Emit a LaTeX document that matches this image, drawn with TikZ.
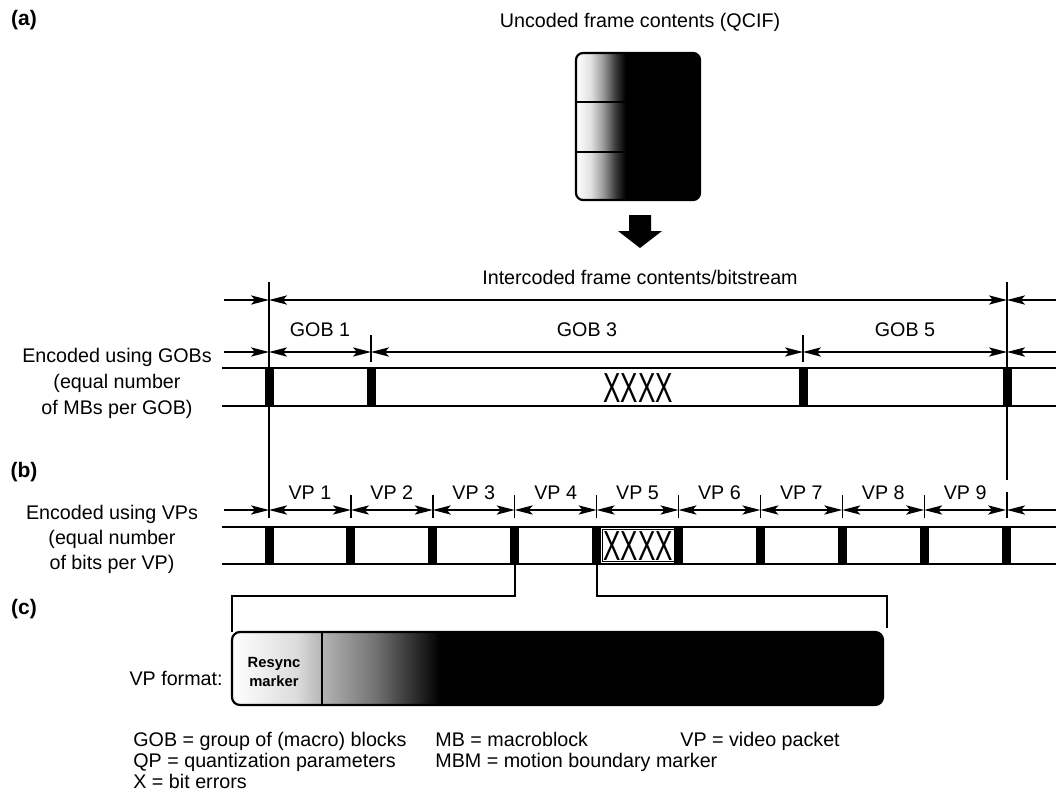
\documentclass[tikz,border=0pt]{standalone}
\usepackage{fontspec}
\usepackage{graphicx}
\setmainfont{Liberation Sans}
\usetikzlibrary{arrows.meta}
% TikZ maps a path's bounding box to the range 25bp..75bp of a shading
\pgfdeclarehorizontalshading{frameshade}{100bp}{color(0bp)=(white); color(25bp)=(white); color(31bp)=(white!88!black); color(36bp)=(black!40); color(41bp)=(black!78); color(45bp)=(black); color(100bp)=(black)}
\pgfdeclarehorizontalshading{vpshade}{100bp}{color(0bp)=(white); color(25bp)=(white); color(30bp)=(white!86!black); color(32bp)=(black!30); color(36bp)=(black!55); color(41bp)=(black); color(100bp)=(black)}
\begin{document}
\begin{tikzpicture}[x=0.5pt,y=-0.5pt,
  font=\fontsize{9.85}{12}\selectfont,
  >={Stealth[length=9pt,width=4.6pt,inset=2pt]},
  dimline/.style={line width=0.7pt},
  extline/.style={line width=0.7pt},
  barline/.style={line width=1.1pt},
  lbl/.style={inner sep=0pt},
  tag/.style={font=\fontsize{10.5}{12}\selectfont\bfseries, inner sep=0pt},
  xxxx/.style={inner sep=0pt, font=\fontsize{21}{21}\selectfont}]
\useasboundingbox (0,0) rectangle (1056,798);

% section tags
\node[tag] (taga) at (24,20) {(a)};
\node[tag] (tagb) at (24,472) {(b)};
\node[tag] (tagc) at (24,609) {(c)};

% uncoded frame
\node[lbl] (uncoded) at (640,22) {Uncoded frame contents (QCIF)};
\shadedraw[shading=frameshade, rounded corners=3.5pt, line width=1.1pt] (576,53) rectangle (700,200);
\draw[line width=1.2pt] (576,102) -- (700,102);
\draw[line width=1.2pt] (576,152) -- (700,152);
\fill (629,215) -- (651,215) -- (651,231) -- (662,231) -- (640,248) -- (618,231) -- (629,231) -- cycle;

% intercoded dimension
\node[lbl] (inter) at (640,277) {Intercoded frame contents/bitstream};
\coordinate (L) at (224,300);
\coordinate (A) at (269,300);
\coordinate (D) at (1007,300);
\coordinate (R) at (1056,300);
\draw[dimline,->] (L) -- (A);
\draw[dimline,<->] (A) -- (D);
\draw[dimline,<-] (D) -- (R);
\draw[extline] (269,282) -- (269,518);
\draw[extline] (1007,282) -- (1007,480);

% GOB dimension
\draw[extline] (371,335) -- (371,362);
\draw[extline] (803,335) -- (803,362);
\draw[dimline,->] (224,352) -- (269,352);
\draw[dimline,<->] (269,352) -- (371,352);
\draw[dimline,<->] (371,352) -- (803,352);
\draw[dimline,<->] (803,352) -- (1007,352);
\draw[dimline,<-] (1007,352) -- (1056,352);
\node[lbl] (gob1) at (320,330) {GOB 1};
\node[lbl] (gob3) at (587,330) {GOB 3};
\node[lbl] (gob5) at (905,330) {GOB 5};

% GOB bar
\draw[barline] (222,368) -- (1056,368);
\draw[barline] (222,406) -- (1056,406);
\foreach \xm in {269,371,803,1007} {\fill (\xm-4.5,368) rectangle (\xm+4.5,406);}
\node[xxxx] (errg) at (638,388) {\scalebox{0.62}[1]{XXXX}};
\node[lbl, align=center, font=\fontsize{9.85}{13}\selectfont] (encg) at (117,383) {Encoded using GOBs\\(equal number\\of MBs per GOB)};

% VP dimension
\draw[dimline,->] (224,510) -- (269,510);
\draw[dimline,<-] (1007,510) -- (1056,510);
\draw[extline] (1007,492) -- (1007,518);
\foreach \k in {1,...,9} {
  \pgfmathsetmacro\xa{269+81.9*(\k-1)}
  \pgfmathsetmacro\xb{269+81.9*\k}
  \draw[dimline,<->] (\xa,510) -- (\xb,510);
  \node[lbl] (vp\k) at ({(\xa+\xb)/2},493) {VP \k};
}
\foreach \k in {1,...,8} {
  \pgfmathsetmacro\xm{269+81.9*\k}
  \draw[extline] (\xm,495) -- (\xm,518);
}

% VP bar
\draw[barline] (222,527) -- (1056,527);
\draw[barline] (222,564) -- (1056,564);
\foreach \k in {0,...,9} {
  \pgfmathsetmacro\xm{269+81.9*\k}
  \fill (\xm-4.5,527) rectangle (\xm+4.5,564);
}
\draw[line width=0.5pt] (602,529.5) rectangle (675,561.5);
\node[xxxx] (errv) at (638,546) {\scalebox{0.62}[1]{XXXX}};
\node[lbl, align=center, font=\fontsize{9.85}{12.5}\selectfont] (encv) at (112,539) {Encoded using VPs\\(equal number\\of bits per VP)};

% bracket to VP format
\coordinate (b1) at (515,564);
\coordinate (b2) at (597,564);
\coordinate (c1) at (232,632);
\coordinate (c2) at (887,628);
\draw[line width=0.6pt] (b1) -- (515,596) -- (232,596) -- (c1);
\draw[line width=0.6pt] (b2) -- (597,596) -- (887,596) -- (c2);

% VP format box
\shadedraw[shading=vpshade, rounded corners=4pt, line width=1.1pt] (232,632) rectangle (883,705);
\draw[line width=1.1pt] (322,632) -- (322,705);
\node[lbl, align=center, font=\fontsize{7.4}{9.5}\selectfont\bfseries] (resync) at (274,672) {Resync\\marker};
\node[lbl, anchor=base east] (vpfmt) at (223,685) {VP format:};

% legend
\node[lbl, anchor=base west] (lg1) at (133,746) {GOB = group of (macro) blocks};
\node[lbl, anchor=base west] (lg2) at (133,767) {QP = quantization parameters};
\node[lbl, anchor=base west] (lg3) at (133,788) {X = bit errors};
\node[lbl, anchor=base west] (lg4) at (435,746) {MB = macroblock};
\node[lbl, anchor=base west] (lg5) at (435,767) {MBM = motion boundary marker};
\node[lbl, anchor=base west] (lg6) at (680,746) {VP = video packet};
\end{tikzpicture}
\end{document}
